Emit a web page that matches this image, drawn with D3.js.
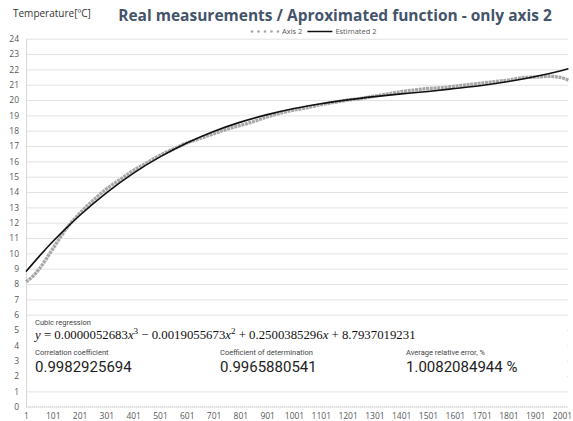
<!DOCTYPE html>
<html>
<head>
<meta charset="utf-8">
<script src="https://cdn.jsdelivr.net/npm/d3@7"></script>
<style>
  html, body { margin: 0; padding: 0; background: #fff; }
  svg { display: block; }
</style>
</head>
<body>
<svg id="chart" width="573" height="421"></svg>
<script>
// Temperature readings (sample index -> °C) and the fitted cubic curve
const measuredIdx = [1, 26, 51, 101, 151, 201, 251, 301, 351, 401, 451, 501, 551, 601, 651, 701, 751, 801, 851, 901, 951, 1001, 1051, 1101, 1151, 1201, 1251, 1301, 1351, 1401, 1451, 1501, 1551, 1601, 1651, 1701, 1751, 1801, 1851, 1901, 1951, 2001, 2025];
const measuredTemp = [8.15, 8.5, 9.0, 10.3, 11.6, 12.6, 13.45, 14.2, 14.8, 15.4, 15.9, 16.4, 16.8, 17.2, 17.5, 17.8, 18.1, 18.35, 18.6, 18.9, 19.15, 19.35, 19.5, 19.7, 19.85, 20.0, 20.1, 20.25, 20.4, 20.55, 20.65, 20.75, 20.8, 20.9, 21.0, 21.1, 21.2, 21.3, 21.45, 21.5, 21.55, 21.45, 21.3];

const estimatedIdx = [1, 51, 101, 151, 201, 301, 401, 501, 601, 701, 801, 901, 1001, 1101, 1201, 1301, 1401, 1501, 1601, 1701, 1801, 1901, 2001, 2025];
const estimatedTemp = [8.81, 9.82, 10.77, 11.65, 12.47, 13.95, 15.22, 16.29, 17.20, 17.95, 18.56, 19.05, 19.45, 19.76, 20.01, 20.22, 20.40, 20.56, 20.75, 20.95, 21.21, 21.53, 21.93, 22.04];

const xTickLabels = [1, 101, 201, 301, 401, 501, 601, 701, 801, 901, 1001, 1101, 1201, 1301, 1401, 1501, 1601, 1701, 1801, 1901, 2001];
const yTickLabels = [0, 1, 2, 3, 4, 5, 6, 7, 8, 9, 10, 11, 12, 13, 14, 15, 16, 17, 18, 19, 20, 21, 22, 23, 24];

const titleText = "Real measurements / Aproximated function - only axis 2";
const yAxisTitle = "Temperature[ºC]";
const legendNames = ["Axis 2", "Estimated 2"];

const regressionName = "Cubic regression";
const coefficients = ["0.0000052683", "0.0019055673", "0.2500385296", "8.7937019231"];
const statNames = ["Correlation coefficient", "Coefficient of determination", "Average relative error, %"];
const statValues = ["0.9982925694", "0.9965880541", "1.0082084944 %"];

const svg = d3.select("#chart");
const plotLeft = 26, plotRight = 568, plotTop = 38.7, plotBottom = 406.7;

const x = d3.scaleLinear().domain([1, 2001]).range([plotLeft, 562]);
const y = d3.scaleLinear().domain([0, 24]).range([plotBottom, plotTop]);

// horizontal gridlines
svg.append("g")
  .attr("transform", `translate(${plotLeft},0)`)
  .call(d3.axisLeft(y).tickValues(yTickLabels).tickSize(-(plotRight - plotLeft)).tickFormat(""))
  .call(g => g.select(".domain").remove())
  .call(g => g.selectAll("line").attr("stroke", "#e3e3e3").attr("stroke-width", 1));

// y tick labels
svg.append("g")
  .attr("transform", `translate(${plotLeft},0)`)
  .call(d3.axisLeft(y).tickValues(yTickLabels).tickSize(0).tickPadding(7))
  .call(g => g.select(".domain").attr("stroke", "#d9d9d9"))
  .call(g => g.selectAll("text").attr("fill", "#595959").attr("font-size", 8.5).attr("font-family", "'Open Sans', sans-serif"));

// x axis (category style)
svg.append("g")
  .attr("transform", `translate(0,${plotBottom})`)
  .call(d3.axisBottom(x).tickValues(xTickLabels).tickSize(0).tickPadding(6).tickFormat(d3.format("d")))
  .call(g => g.select(".domain").attr("stroke", "#d0d0d0").attr("stroke-dasharray", "1,1").attr("d", `M${plotLeft},0H${plotRight}`))
  .call(g => g.selectAll("text").attr("fill", "#595959").attr("font-size", 8.5).attr("font-family", "'Open Sans', sans-serif"));

// measured series
const measured = measuredIdx.map((d, i) => [d, measuredTemp[i]]);
svg.append("path")
  .datum(measured)
  .attr("fill", "none")
  .attr("stroke", "#a8a8a8")
  .attr("stroke-width", 3.4)
  .attr("stroke-dasharray", "3,0.7")
  .attr("d", d3.line().x(d => x(d[0])).y(d => y(d[1])).curve(d3.curveMonotoneX));

// fitted curve
const estimated = estimatedIdx.map((d, i) => [d, estimatedTemp[i]]);
svg.append("path")
  .datum(estimated)
  .attr("fill", "none")
  .attr("stroke", "#111")
  .attr("stroke-width", 1.6)
  .attr("d", d3.line().x(d => x(d[0])).y(d => y(d[1])).curve(d3.curveMonotoneX));

// annotation panel
const panel = svg.append("g");
panel.append("rect").attr("x", plotLeft + 1).attr("y", 316).attr("width", plotRight - plotLeft - 2).attr("height", 70).attr("fill", "#fff");

const sans = "Roboto, 'Open Sans', sans-serif";
panel.append("text").attr("x", 35).attr("y", 325).attr("font-size", 7.5).attr("fill", "#444").attr("font-family", sans).text(regressionName);

const eq = panel.append("text").attr("x", 35).attr("y", 339).attr("font-size", 12.8).attr("fill", "#111").attr("font-family", "'Liberation Serif', 'DejaVu Serif', serif");
eq.append("tspan").attr("font-style", "italic").text("y");
eq.append("tspan").text(" = " + coefficients[0]);
eq.append("tspan").attr("font-style", "italic").text("x");
eq.append("tspan").attr("dy", -5.5).attr("font-size", 9).text("3");
eq.append("tspan").attr("dy", 5.5).text(" − " + coefficients[1]);
eq.append("tspan").attr("font-style", "italic").text("x");
eq.append("tspan").attr("dy", -5.5).attr("font-size", 9).text("2");
eq.append("tspan").attr("dy", 5.5).text(" + " + coefficients[2]);
eq.append("tspan").attr("font-style", "italic").text("x");
eq.append("tspan").text(" + " + coefficients[3]);

const statX = [35, 220, 406];
statNames.forEach((n, i) => {
  panel.append("text").attr("x", statX[i]).attr("y", 355).attr("font-size", 7.5).attr("fill", "#444").attr("font-family", sans).text(n);
  panel.append("text").attr("x", statX[i]).attr("y", 372).attr("font-size", 15).attr("fill", "#222").attr("font-family", sans).text(statValues[i]);
});

// titles
svg.append("text").attr("x", 13).attr("y", 17).attr("font-size", 10).attr("fill", "#333").attr("font-family", "'Open Sans', sans-serif").text(yAxisTitle);
svg.append("text").attr("x", 335).attr("y", 21).attr("text-anchor", "middle").attr("font-size", 15.5).attr("font-weight", 700).attr("fill", "#44546a").attr("font-family", "'Open Sans', sans-serif").text(titleText);

// legend, laid out left to right from measured text widths
const lg = svg.append("g").attr("font-family", "'Open Sans', sans-serif").attr("font-size", 7.5).attr("fill", "#595959");
let cursor = 252;
d3.range(5).forEach(k => lg.append("circle").attr("cx", cursor + k * 6.5).attr("cy", 31.5).attr("r", 1.3).attr("fill", "#a6a6a6"));
cursor += 4 * 6.5 + 4;
const t1 = lg.append("text").attr("x", cursor).attr("y", 34).text(legendNames[0]);
cursor += t1.node().getComputedTextLength() + 5;
lg.append("line").attr("x1", cursor).attr("x2", cursor + 25).attr("y1", 31.5).attr("y2", 31.5).attr("stroke", "#111").attr("stroke-width", 1.5);
cursor += 28;
lg.append("text").attr("x", cursor).attr("y", 34).text(legendNames[1]);
</script>
</body>
</html>
